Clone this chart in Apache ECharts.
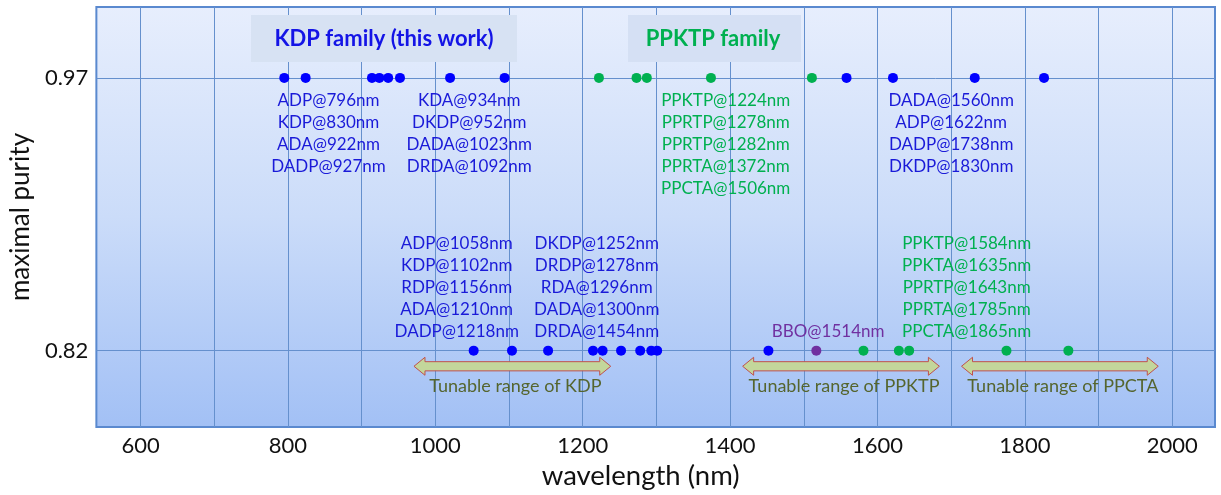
<!DOCTYPE html>
<html>
<head>
<meta charset="utf-8">
<script src="https://cdn.jsdelivr.net/npm/echarts@6/dist/echarts.min.js"></script>
<style>
html,body{margin:0;padding:0;background:#fff;}
#chart{width:1221px;height:495px;}
</style>
</head>
<body>
<div id="chart"></div>
<script>
// axis ticks
const xGridLines = [600, 700, 800, 900, 1000, 1100, 1200, 1300, 1400, 1500, 1600, 1700, 1800, 1900, 2000];
const xTickLabels = [600, 800, 1000, 1200, 1400, 1600, 1800, 2000];
const yTickLabels = [0.82, 0.97];

// purity levels
const purityHigh = 0.97;
const purityLow = 0.82;

// KDP family (blue) - label text, and dot positions as drawn
const kdpTopNames = ['ADP', 'KDP', 'ADA', 'DADP', 'KDA', 'DKDP', 'DADA', 'DRDA'];
const kdpTopNm = [796, 830, 922, 927, 934, 952, 1023, 1092];
const kdpTopDots = [795, 824, 914, 924, 936, 952, 1020, 1094];
const kdpTopRightNames = ['DADA', 'ADP', 'DADP', 'DKDP'];
const kdpTopRightNm = [1560, 1622, 1738, 1830];
const kdpTopRightDots = [1558, 1621, 1732, 1826];
const kdpLowNames = ['ADP', 'KDP', 'RDP', 'ADA', 'DADP', 'DKDP', 'DRDP', 'RDA', 'DADA', 'DRDA'];
const kdpLowNm = [1058, 1102, 1156, 1210, 1218, 1252, 1278, 1296, 1300, 1454];
const kdpLowDots = [1052, 1104, 1153, 1214, 1227, 1252, 1278, 1293, 1301, 1452];

// PPKTP family (green)
const ppTopNames = ['PPKTP', 'PPRTP', 'PPRTP', 'PPRTA', 'PPCTA'];
const ppTopNm = [1224, 1278, 1282, 1372, 1506];
const ppTopDots = [1222, 1273, 1287, 1374, 1511];
const ppLowNames = ['PPKTP', 'PPKTA', 'PPRTP', 'PPRTA', 'PPCTA'];
const ppLowNm = [1584, 1635, 1643, 1785, 1865];
const ppLowDots = [1581, 1629, 1643, 1775, 1859];

// BBO (purple)
const bboNames = ['BBO'];
const bboNm = [1514];
const bboDots = [1517];

// tunable ranges
const rangeNames = ['KDP', 'PPKTP', 'PPCTA'];
const rangeStart = [971, 1417, 1714];
const rangeEnd = [1238, 1684, 1981];

const BLUE = '#0000ff', BLUE_TXT = '#1a1ad8', GREEN = '#00b050', PURPLE = '#7030a0';
const FONT = 'Lato, "Open Sans", sans-serif';

function lbl(names, nm) { return names.map((n, i) => n + '@' + nm[i] + 'nm'); }

// text blocks placed in data coordinates
const notes = [
  { lines: lbl(kdpTopNames, kdpTopNm).slice(0, 4), color: BLUE_TXT, at: [855, 0.9395] },
  { lines: lbl(kdpTopNames, kdpTopNm).slice(4), color: BLUE_TXT, at: [1046, 0.9395] },
  { lines: lbl(ppTopNames, ppTopNm), color: GREEN, at: [1394, 0.9336] },
  { lines: lbl(kdpTopRightNames, kdpTopRightNm), color: BLUE_TXT, at: [1700, 0.9396] },
  { lines: lbl(kdpLowNames, kdpLowNm).slice(0, 5), color: BLUE_TXT, at: [1029, 0.8547] },
  { lines: lbl(kdpLowNames, kdpLowNm).slice(5), color: BLUE_TXT, at: [1219, 0.8547] },
  { lines: lbl(ppLowNames, ppLowNm), color: GREEN, at: [1721, 0.8547] },
  { lines: lbl(bboNames, bboNm), color: PURPLE, at: [1533, 0.8306] }
];
const arrowLevel = 0.8114;

const blueData = kdpTopDots.concat(kdpTopRightDots).map(v => [v, purityHigh])
  .concat(kdpLowDots.map(v => [v, purityLow]));
const greenData = ppTopDots.map(v => [v, purityHigh]).concat(ppLowDots.map(v => [v, purityLow]));
const purpleData = bboDots.map(v => [v, purityLow]);

const chart = echarts.init(document.getElementById('chart'));

const option = {
  animation: false,
  grid: {
    show: true, left: 95, right: 6, top: 7, bottom: 68,
    backgroundColor: {
      type: 'linear', x: 0, y: 0, x2: 0, y2: 1,
      colorStops: [{ offset: 0, color: '#e7eefd' }, { offset: 0.5, color: '#cbdcf9' }, { offset: 1, color: '#a2c0f5' }]
    },
    borderColor: '#5a89cf', borderWidth: 2
  },
  graphic: [
    { type: 'rect', left: 251, top: 15, shape: { width: 266, height: 47 }, style: { fill: '#d7e2f3' }, z: 10 },
    { type: 'text', x: 384, y: 39, style: { text: 'KDP family (this work)', fill: '#1414e6', font: 'bold 22px ' + FONT, align: 'center', verticalAlign: 'middle' }, z: 11 },
    { type: 'rect', left: 628, top: 15, shape: { width: 173, height: 47 }, style: { fill: '#d5e0f4' }, z: 10 },
    { type: 'text', x: 713, y: 39, style: { text: 'PPKTP family', fill: GREEN, font: 'bold 22px ' + FONT, align: 'center', verticalAlign: 'middle' }, z: 11 }
  ],
  xAxis: {
    type: 'value', min: 540, max: 2058,
    name: 'wavelength (nm)', nameLocation: 'middle', nameGap: 35,
    nameTextStyle: { fontSize: 27.5, fontFamily: FONT, color: '#111', padding: [0, 30, 0, 0] },
    axisLine: { show: false }, axisTick: { show: false }, splitLine: { show: false },
    axisLabel: { customValues: xTickLabels, formatter: v => String(v), fontSize: 22, fontFamily: FONT, color: '#111', margin: 8 }
  },
  yAxis: {
    type: 'value', min: 0.778, max: 1.009,
    name: 'maximal purity', nameLocation: 'middle', nameGap: 57,
    nameTextStyle: { fontSize: 26, fontFamily: FONT, color: '#111' },
    axisLine: { show: false }, axisTick: { show: false }, splitLine: { show: false },
    axisLabel: { customValues: yTickLabels, formatter: v => v.toFixed(2), fontSize: 22, fontFamily: FONT, color: '#111', margin: 8 }
  },
  series: [
    {
      name: 'KDP family', type: 'scatter', data: blueData, symbolSize: 10, z: 5,
      itemStyle: { color: BLUE, opacity: 1 },
      markLine: {
        silent: true, symbol: 'none', z: 1, animation: false,
        label: { show: false },
        lineStyle: { color: '#6590cd', width: 1, type: 'solid' },
        data: xGridLines.map(v => ({ xAxis: v })).concat(yTickLabels.map(v => ({ yAxis: v })))
      }
    },
    { name: 'PPKTP family', type: 'scatter', data: greenData, symbolSize: 10, z: 5, itemStyle: { color: GREEN, opacity: 1 } },
    { name: 'BBO', type: 'scatter', data: purpleData, symbolSize: 10, z: 5, itemStyle: { color: PURPLE, opacity: 1 } },
    {
      name: 'ranges', type: 'custom', z: 3,
      data: rangeStart.map((s, i) => [s, rangeEnd[i], arrowLevel, i]),
      encode: { x: [0, 1], y: 2 },
      renderItem: function (params, api) {
        const p0 = api.coord([api.value(0), api.value(2)]);
        const p1 = api.coord([api.value(1), api.value(2)]);
        const x0 = p0[0], x1 = p1[0], y = p0[1];
        const hw = 9, sw = 4.6, hl = 11;
        const pts = [[x0, y], [x0 + hl, y - hw], [x0 + hl, y - sw], [x1 - hl, y - sw], [x1 - hl, y - hw], [x1, y],
          [x1 - hl, y + hw], [x1 - hl, y + sw], [x0 + hl, y + sw], [x0 + hl, y + hw]];
        return {
          type: 'group', children: [
            { type: 'polygon', shape: { points: pts }, style: { fill: '#c3d69b', stroke: '#c0504d', lineWidth: 1 } },
            { type: 'text', x: (x0 + x1) / 2 + 3, y: y + 20, style: { text: 'Tunable range of ' + rangeNames[api.value(3)], fill: '#55652e', font: '18px ' + FONT, align: 'center', verticalAlign: 'middle' } }
          ]
        };
      }
    },
    {
      name: 'notes', type: 'custom', z: 6,
      data: notes.map((n, i) => [n.at[0], n.at[1], i]),
      encode: { x: 0, y: 1 },
      renderItem: function (params, api) {
        const n = notes[api.value(2)];
        const p = api.coord([api.value(0), api.value(1)]);
        return {
          type: 'text', x: p[0], y: p[1],
          style: { text: n.lines.join('\n'), fill: n.color, font: '17px ' + FONT, lineHeight: 22, align: 'center', verticalAlign: 'middle' }
        };
      }
    }
  ]
};
chart.setOption(option);
</script>
</body>
</html>
